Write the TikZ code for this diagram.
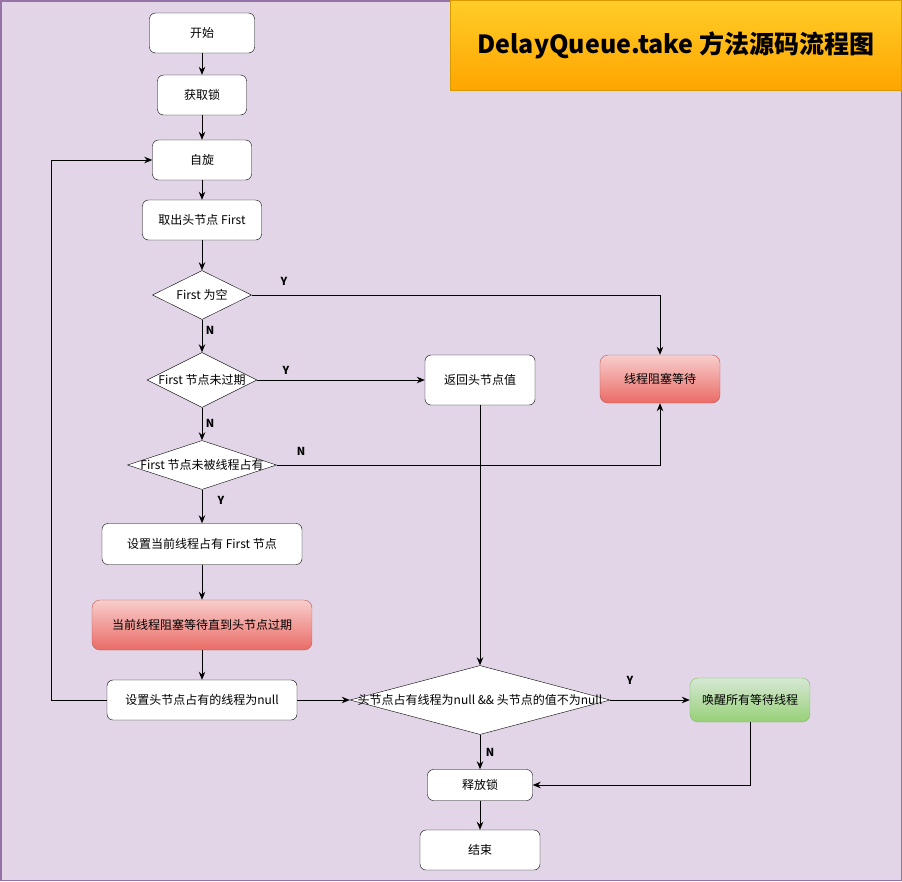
\documentclass[tikz,border=0pt]{standalone}
\usepackage{fontspec}
\setmainfont{Noto Sans CJK SC}
\usetikzlibrary{shapes.geometric,arrows.meta}
\definecolor{bgpurple}{HTML}{E1D5E7}
\definecolor{framepurple}{HTML}{9673A6}
\definecolor{titletop}{HTML}{FFCD28}
\definecolor{titlebot}{HTML}{FFA500}
\definecolor{titleline}{HTML}{D79B00}
\definecolor{redtop}{HTML}{F8CECC}
\definecolor{redbot}{HTML}{EA6B66}
\definecolor{redline}{HTML}{B85450}
\definecolor{greentop}{HTML}{D5E8D4}
\definecolor{greenbot}{HTML}{97D077}
\definecolor{greenline}{HTML}{82B366}
\newcommand{\dtext}[1]{\makebox[0pt]{#1}}

\begin{document}
\begin{tikzpicture}[x=1pt,y=-1pt,font=\fontsize{12}{14}\selectfont,
  proc/.style={draw,rounded corners=6,fill=white,inner sep=0,minimum height=40},
  dec/.style={draw,diamond,fill=white,inner sep=0},
  redbox/.style={proc,draw=redline,top color=redtop,bottom color=redbot,rounded corners=8},
  greenbox/.style={proc,draw=greenline,top color=greentop,bottom color=greenbot,rounded corners=8},
  yn/.style={font=\bfseries\fontsize{11}{13}\selectfont},
  flow/.style={-{Stealth[length=8pt,width=6.5pt]},line width=0.9pt}]
  \useasboundingbox (0,0) rectangle (902,881);
  \fill[bgpurple] (0,0) rectangle (902,881);
  \draw[framepurple,line width=1.5pt] (0.75,0.75) rectangle (901.25,880.25);
  \node[draw=titleline,top color=titletop,bottom color=titlebot,minimum width=451,minimum height=90,
        font=\bfseries\fontsize{25}{29}\selectfont] (title) at (676,45) {DelayQueue.take 方法源码流程图};

  % main column
  \node[proc,minimum width=105] (start) at (202,33) {开始};
  \node[proc,minimum width=89] (lock) at (202,95) {获取锁};
  \node[proc,minimum width=99] (spin) at (202,160) {自旋};
  \node[proc,minimum width=119] (take) at (202,220) {取出头节点 First};
  \node[dec,minimum width=99,minimum height=49] (empty) at (202,295) {\dtext{First 为空}};
  \node[dec,minimum width=110,minimum height=55] (alive) at (202,380) {\dtext{First 节点未过期}};
  \node[dec,minimum width=149,minimum height=49] (owned) at (202,465) {\dtext{First 节点未被线程占有}};
  \node[proc,minimum width=200,minimum height=41] (setown) at (202,544) {设置当前线程占有 First 节点};
  \node[redbox,minimum width=220,minimum height=50] (waitexp) at (202,625) {当前线程阻塞等待直到头节点过期};
  \node[proc,minimum width=190] (setnull) at (202,700) {设置头节点占有的线程为null};

  % right side
  \node[proc,minimum width=110,minimum height=50] (ret) at (480,380) {返回头节点值};
  \node[redbox,minimum width=120,minimum height=48] (block) at (660,379) {线程阻塞等待};
  \node[dec,minimum width=260,minimum height=69] (big) at (480,700) {\dtext{头节点占有线程为null \&\& 头节点的值不为null}};
  \node[greenbox,minimum width=120,minimum height=44] (wake) at (750,700) {唤醒所有等待线程};
  \node[proc,minimum width=105,minimum height=31] (release) at (480,785) {释放锁};
  \node[proc,minimum width=120] (finish) at (480,850) {结束};

  \foreach \a/\b in {start/lock,lock/spin,spin/take,take/empty,empty/alive,alive/owned,owned/setown,
                     setown/waitexp,waitexp/setnull,setnull/big,big/wake,big/release,release/finish}
    \draw[flow] (\a) -- (\b);
  \draw[flow] (empty.east) -| (block.north);
  \draw[flow] (alive.east) -- (ret.west);
  \draw[flow] (owned.east) -| (block.south);
  \draw[flow] (ret.south) -- (big.north);
  \draw[flow] (setnull.west) -- ++(-55,0) |- (spin.west);
  \draw[flow] (wake.south) |- (release.east);

  \node[yn] (y1) at (284,281) {Y};
  \node[yn] (n1) at (210,330) {N};
  \node[yn] (y2) at (286,370) {Y};
  \node[yn] (n2) at (210,423) {N};
  \node[yn] (n3) at (301,451) {N};
  \node[yn] (y3) at (221,500) {Y};
  \node[yn] (y4) at (630,680) {Y};
  \node[yn] (n4) at (490,752) {N};
\end{tikzpicture}
\end{document}
